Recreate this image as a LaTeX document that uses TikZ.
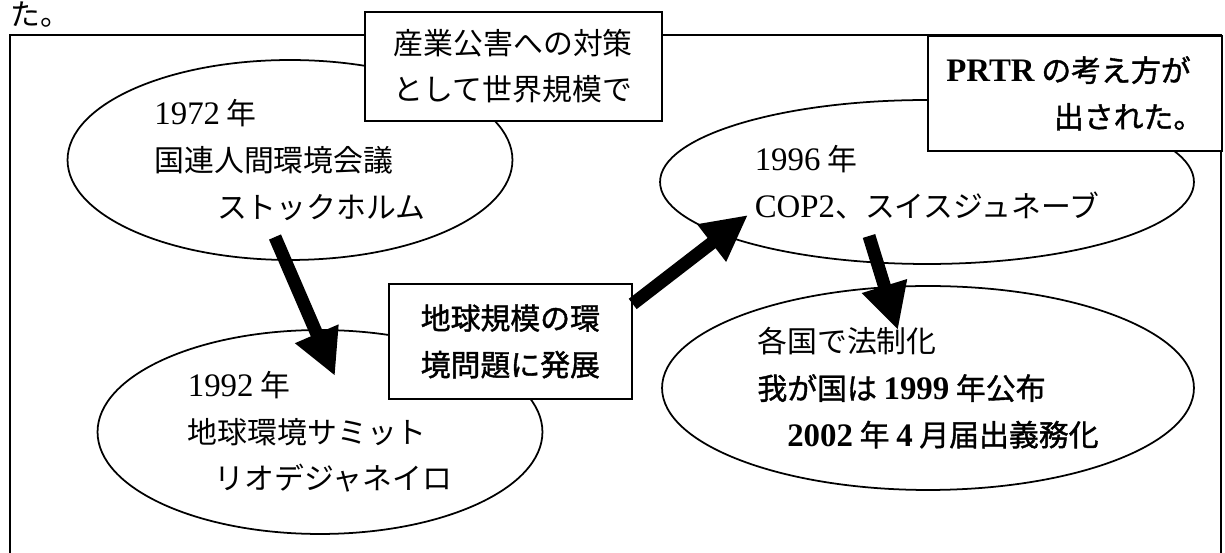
\documentclass[tikz,border=0pt]{standalone}
\usepackage{fontspec}
\newfontfamily\jp{Noto Sans CJK JP}[BoldFont={Noto Sans CJK JP}, BoldFeatures={FakeBold=1.3}]
\newfontfamily\latfont{Liberation Serif}[Scale=1.1]
\newcommand{\lat}[1]{{\latfont #1}}
\usetikzlibrary{shapes.geometric, arrows.meta}

\begin{document}
\begin{tikzpicture}[x=0.02cm, y=-0.02cm, every node/.style={font=\fontsize{17pt}{26.5pt}\jp}, oval/.style={draw, ellipse, line width=1pt, fill=white, inner sep=0pt, align=left}, note/.style={draw, rectangle, line width=1pt, fill=white, inner sep=0pt, align=left, anchor=north west}, strong/.style={font=\fontsize{17pt}{26.5pt}\jp\bfseries}, bigarrow/.style={-{Triangle[length=0.92cm, width=0.88cm]}, line width=0.26cm}]
            \useasboundingbox (0,0) rectangle (1225,553);
            % frame
            \draw[line width=1.2pt] (10,553) -- (10,35) -- (1221,35) -- (1221,553);
            % nodes
            \node[anchor=base west, inner sep=0pt] (ta) at (10,26) {た。};

            \node[oval, minimum width=8.9cm, minimum height=4cm] (y1972) at (290,160) {\lat{1972} 年\\国連人間環境会議\\\hspace*{2.1em}ストックホルム};
            \node[oval, minimum width=8.9cm, minimum height=4.08cm] (y1992) at (320,432) {\lat{1992} 年\\地球環境サミット\\\hspace*{0.9em}リオデジャネイロ};

            \node[oval, minimum width=10.68cm, minimum height=3.28cm] (y1996) at (927,182) {\lat{1996} 年\\\lat{COP2}、スイスジュネーブ};
            \node[oval, minimum width=10.64cm, minimum height=4.08cm] (law) at (928,388) {各国で法制化\\\bfseries 我が国は \lat{1999} 年公布\\\hspace*{1em}\bfseries\lat{2002} 年 \lat{4} 月届出義務化};

            \node[note, minimum width=5.94cm, minimum height=2.18cm] (cause) at (364,11) {産業公害への対策\\として世界規模で};
            \node[note, strong, minimum width=5.88cm, minimum height=2.3cm] (prtr) at (927,35) {\lat{PRTR} の考え方が\\\hspace*{3.6em}出された。};
            \node[note, strong, minimum width=4.86cm, minimum height=2.3cm] (global) at (388,283) {地球規模の環\\境問題に発展};

            \coordinate (a1s) at (275,237);
            \coordinate (a1e) at (335,376);
            \coordinate (a2e) at (748,215);
            \coordinate (a3s) at (869,236);
            \coordinate (a3e) at (898,330);
            % edges
            \draw[bigarrow] (a1s) -- (a1e);
            \draw[bigarrow] (global.17) -- (a2e);
            \draw[bigarrow] (a3s) -- (a3e);
        \end{tikzpicture}
\end{document}
